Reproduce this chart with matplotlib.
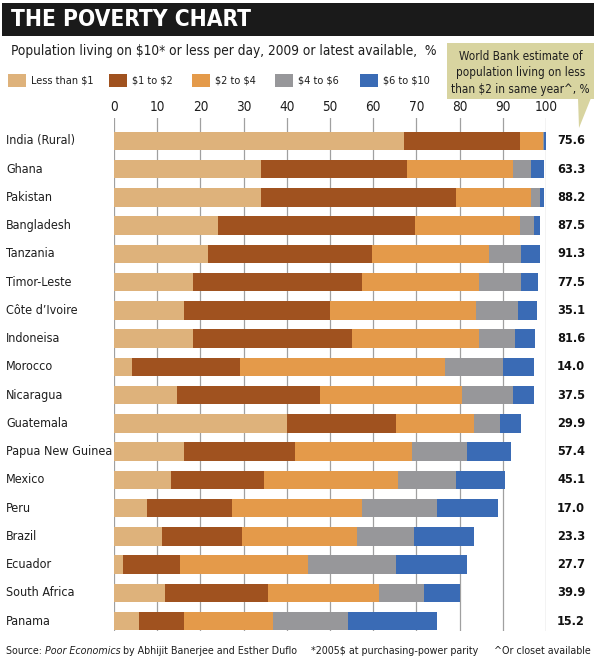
import matplotlib
matplotlib.use("Agg")
import matplotlib.pyplot as plt
import matplotlib.transforms as mtransforms
from matplotlib import font_manager as fm
from matplotlib.patches import Rectangle, Polygon
import numpy as np

countries = ["India (Rural)", "Ghana", "Pakistan", "Bangladesh", "Tanzania", "Timor-Leste",
             "Côte d\u2019Ivoire", "Indoneisa", "Morocco", "Nicaragua", "Guatemala",
             "Papua New Guinea", "Mexico", "Peru", "Brazil", "Ecuador", "South Africa", "Panama"]

# segment widths, % of population
less_1 = [67.2, 34.1, 34.1, 24.0, 21.7, 18.3, 16.2, 18.3, 4.1, 14.5, 40.0, 16.2, 13.3, 7.6, 11.0, 2.0, 11.8, 5.8]
d1_2   = [26.7, 33.7, 45.1, 45.6, 38.0, 39.0, 33.8, 36.7, 25.1, 33.1, 25.2, 25.6, 21.4, 19.7, 18.7, 13.2, 23.9, 10.4]
d2_4   = [5.4, 24.5, 17.3, 24.4, 27.0, 27.1, 33.7, 29.4, 47.5, 33.0, 18.1, 27.1, 31.1, 30.0, 26.5, 29.6, 25.6, 20.6]
d4_6   = [0.2, 4.2, 2.0, 3.3, 7.6, 9.9, 9.8, 8.5, 13.3, 11.7, 6.0, 12.8, 13.4, 17.4, 13.3, 20.4, 10.5, 17.3]
d6_10  = [0.5, 3.1, 1.1, 1.2, 4.2, 3.9, 4.5, 4.6, 7.3, 5.0, 5.0, 10.2, 11.3, 14.1, 13.8, 16.5, 8.3, 20.6]

wb_under2 = ["75.6", "63.3", "88.2", "87.5", "91.3", "77.5", "35.1", "81.6", "14.0", "37.5",
             "29.9", "57.4", "45.1", "17.0", "23.3", "27.7", "39.9", "15.2"]

series_names = ["Less than \\$1", "\\$1 to \\$2", "\\$2 to \\$4", "\\$4 to \\$6", "\\$6 to \\$10"]
series_colors = ["#deb27b", "#a0521f", "#e49a4a", "#97979a", "#3a6bb5"]
xticks = [0, 10, 20, 30, 40, 50, 60, 70, 80, 90, 100]

# ---- font choice: prefer a condensed face ----
names = {f.name for f in fm.fontManager.ttflist}
stretch = 'normal'
if 'Liberation Sans Narrow' in names:
    fam = 'Liberation Sans Narrow'
elif any(f.name == 'DejaVu Sans' and f.stretch in ('condensed', 'semi-condensed') for f in fm.fontManager.ttflist):
    fam = 'DejaVu Sans'
    stretch = 'condensed'
elif 'Lato' in names:
    fam = 'Lato'
else:
    fam = 'DejaVu Sans'
plt.rcParams['font.family'] = [fam, 'DejaVu Sans']
plt.rcParams['font.stretch'] = stretch

W, H = 600, 658
fig = plt.figure(figsize=(W / 100, H / 100), dpi=100)
fig.patch.set_facecolor("white")
renderer = fig.canvas.get_renderer()

def fx(px):
    return px / W

def fy(py):
    return 1 - py / H

def text_w(s, size, weight='normal', style='normal'):
    prop = fm.FontProperties(family=[fam, 'DejaVu Sans'], size=size, weight=weight, style=style, stretch=stretch)
    w, h, d = renderer.get_text_width_height_descent(s.replace('\\$', '$'), prop, ismath=False)
    return w

def fit(strings, target_px, size, weight='normal', style='normal'):
    if isinstance(strings, str):
        strings = [strings]
    w = max(text_w(s, size, weight, style) for s in strings)
    return min(size, size * target_px / w) if w > 0 else size

TXT = '#1e1e1e'

# Axes: x 0..100 maps to px 114..546, gridlines from y 118 to 631
ax_left, ax_right, ax_top, ax_bot = 114, 546, 118, 631
ax = fig.add_axes([fx(ax_left), fy(ax_bot), fx(ax_right - ax_left), (ax_bot - ax_top) / H])
n = len(countries)
y = np.arange(n)
series = [less_1, d1_2, d2_4, d4_6, d6_10]
left = np.zeros(n)
for vals, col in zip(series, series_colors):
    vals = np.array(vals)
    ax.barh(y, vals, left=left, height=0.66, color=col, linewidth=0, zorder=2)
    left += vals

ax.set_xlim(0, 100)
ax.set_ylim(17.35, -0.81)
ax.set_xticks(xticks)
ax.xaxis.tick_top()
tick_fs = fit("100", 23, 11)
ax.tick_params(axis='x', length=0, pad=3, labelsize=tick_fs, colors=TXT)
ax.set_yticks([])
ax.grid(axis='x', color='#a0a0a0', linewidth=0.9, zorder=0)
ax.set_axisbelow(True)
for s in ax.spines.values():
    s.set_visible(False)

trans = mtransforms.blended_transform_factory(fig.transFigure, ax.transData)
country_fs = fit("Papua New Guinea", 106, 11.5)
val_fs = fit("75.6", 28, 11.5, weight='bold')
for i, c in enumerate(countries):
    ax.text(fx(6), i, c, transform=trans, ha='left', va='center', fontsize=country_fs, color=TXT)
    ax.text(fx(571), i, wb_under2[i], transform=trans, ha='center', va='center',
            fontsize=val_fs, fontweight='bold', color='#111111')

# Title bar
fig.patches.append(Rectangle((fx(2), fy(36)), fx(592), 33 / H, transform=fig.transFigure,
                             facecolor='#1a1a1a', edgecolor='none'))
title = "THE POVERTY CHART"
fig.text(fx(11), fy(20), title, color='white', fontsize=fit(title, 240, 18, weight='bold'),
         fontweight='bold', ha='left', va='center')

sub = "Population living on \\$10* or less per day, 2009 or latest available,  %"
fig.text(fx(11), fy(51), sub, fontsize=fit(sub, 428, 12.5), ha='left', va='center', color=TXT)

# Legend
sw_x = [8, 109, 192, 275, 360]
leg_fs = fit(["Less than \\$1", "\\$6 to \\$10"], 63, 10.5)
for sx, name, col in zip(sw_x, series_names, series_colors):
    fig.patches.append(Rectangle((fx(sx), fy(87)), fx(18), 13 / H, transform=fig.transFigure,
                                 facecolor=col, edgecolor='none'))
    fig.text(fx(sx + 23), fy(80.5), name, fontsize=leg_fs, ha='left', va='center', color=TXT)

# Callout box
box_col = '#d8d4a0'
fig.patches.append(Rectangle((fx(447), fy(99)), fx(147), 56 / H, transform=fig.transFigure,
                             facecolor=box_col, edgecolor='none'))
fig.patches.append(Polygon([(fx(578), fy(98)), (fx(591), fy(98)), (fx(579), fy(128))],
                           closed=True, transform=fig.transFigure, facecolor=box_col, edgecolor='none'))
box_lines = ["World Bank estimate of", "population living on less", "than \\$2 in same year^, %"]
box_fs = fit(box_lines, 138, 11.5)
for ty, t in zip([56, 72.5, 89], box_lines):
    fig.text(fx(520.5), fy(ty), t, fontsize=box_fs, ha='center', va='center', color=TXT)

# Footer
foot_y = fy(651)
p1, p2, p3 = "Source: ", "Poor Economics", " by Abhijit Banerjee and Esther Duflo"
w_all = text_w(p1 + p3, 10) + text_w(p2, 10, style='italic')
foot_fs = min(10, 10 * 292 / w_all)
x = 6
fig.text(fx(x), foot_y, p1, fontsize=foot_fs, ha='left', va='center', color=TXT)
x += text_w(p1, foot_fs)
fig.text(fx(x), foot_y, p2, fontsize=foot_fs, style='italic', ha='left', va='center', color=TXT)
x += text_w(p2, foot_fs, style='italic')
fig.text(fx(x), foot_y, p3, fontsize=foot_fs, ha='left', va='center', color=TXT)
fig.text(fx(311), foot_y, "*2005\\$ at purchasing-power parity", fontsize=foot_fs,
         ha='left', va='center', color=TXT)
fig.text(fx(591), foot_y, "^Or closet available", fontsize=foot_fs, ha='right', va='center', color=TXT)

fig.savefig("out.png", dpi=100, facecolor='white')
